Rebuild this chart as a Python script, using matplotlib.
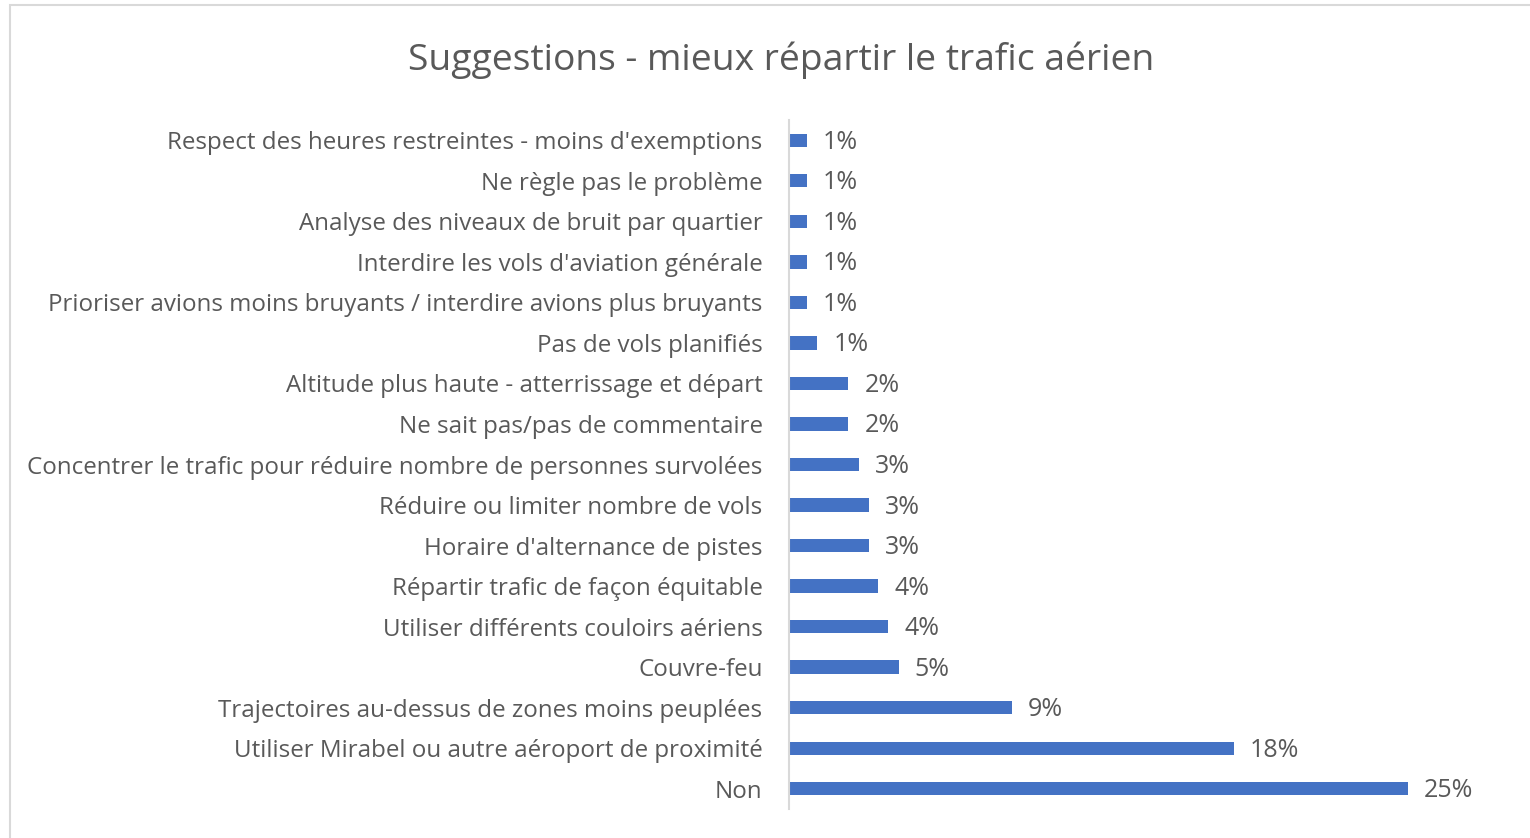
import matplotlib
matplotlib.use("Agg")
import matplotlib.pyplot as plt
from matplotlib.patches import Rectangle

categories = [
    "Respect des heures restreintes - moins d'exemptions",
    "Ne règle pas le problème",
    "Analyse des niveaux de bruit par quartier",
    "Interdire les vols d'aviation générale",
    "Prioriser avions moins bruyants / interdire avions plus bruyants",
    "Pas de vols planifiés",
    "Altitude plus haute - atterrissage et départ",
    "Ne sait pas/pas de commentaire",
    "Concentrer le trafic pour réduire nombre de personnes survolées",
    "Réduire ou limiter nombre de vols",
    "Horaire d'alternance de pistes",
    "Répartir trafic de façon équitable",
    "Utiliser différents couloirs aériens",
    "Couvre-feu",
    "Trajectoires au-dessus de zones moins peuplées",
    "Utiliser Mirabel ou autre aéroport de proximité",
    "Non",
]
values = [0.73, 0.73, 0.73, 0.73, 0.73, 1.15, 2.40, 2.40, 2.83, 3.23, 3.23,
          3.60, 4.02, 4.43, 9.01, 17.97, 25.0]
value_labels = ["1%", "1%", "1%", "1%", "1%", "1%", "2%", "2%", "3%", "3%", "3%",
                "4%", "4%", "5%", "9%", "18%", "25%"]

BLUE, TXT, GRID = "#4472C4", "#595959", "#D9D9D9"
plt.rcParams["font.family"] = ["Open Sans", "DejaVu Sans"]

W, H = 1530, 838
fig = plt.figure(figsize=(W / 100, H / 100), dpi=100)
# outer chart frame
fig.patches.append(Rectangle((10 / W, -0.1), 1.2, (H - 5) / H + 0.1, transform=fig.transFigure,
                             fill=False, edgecolor=GRID, lw=1.5))
ax = fig.add_axes([789 / W, 1 - 809 / H, 28 * 24.74 / W, (809 - 120) / H])

y = list(range(len(categories)))
ax.barh(y, values, height=0.33, color=BLUE)
for yi, v, lab in zip(y, values, value_labels):
    ax.annotate(lab, (v, yi), xytext=(16, -2), textcoords="offset pixels",
                va="center", ha="left", fontsize=18, color=TXT)
ax.set_ylim(len(categories) - 0.5, -0.5)
ax.set_xlim(0, 28)
ax.set_yticks(y)
ax.set_yticklabels(categories, fontsize=17.4, color=TXT)
ax.tick_params(axis="y", length=0, pad=19)
ax.set_xticks([])
for s in ["top", "right", "bottom"]:
    ax.spines[s].set_visible(False)
ax.spines["left"].set_color(GRID)
ax.spines["left"].set_linewidth(1.5)

fig.text(781 / W, 1 - 60 / H, "Suggestions - mieux répartir le trafic aérien",
         ha="center", va="center", fontsize=26.8, color=TXT)

fig.savefig("out.png", dpi=100)
